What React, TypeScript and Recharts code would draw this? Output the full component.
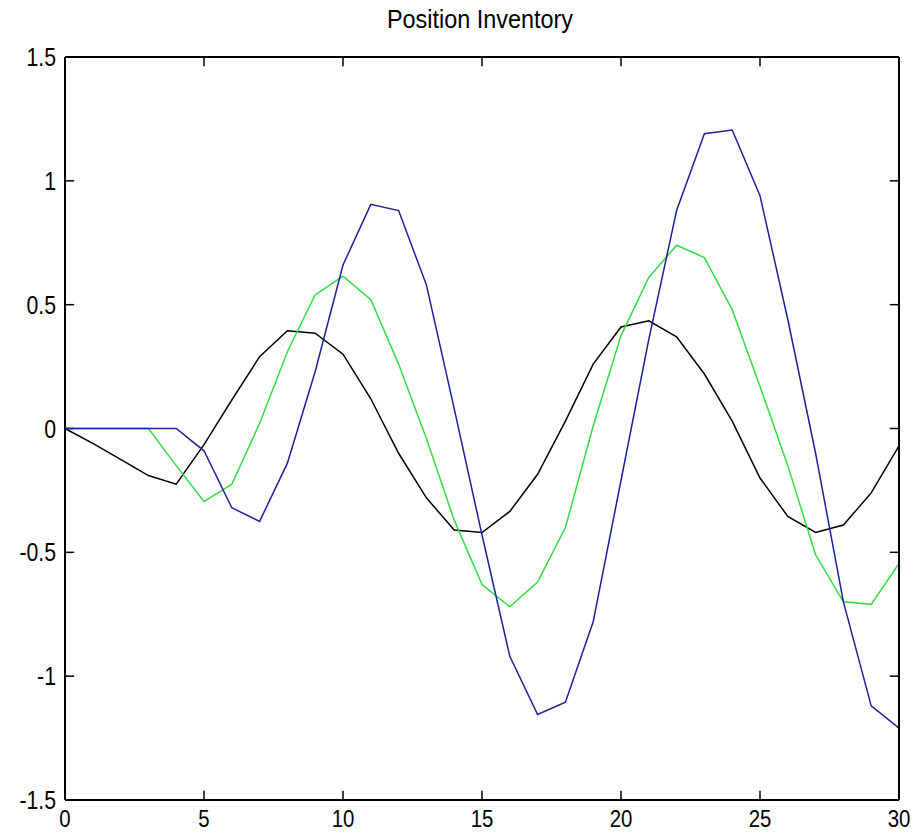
import { Line, LineChart, ReferenceLine, XAxis, YAxis } from 'recharts';

const steps = [0, 1, 2, 3, 4, 5, 6, 7, 8, 9, 10, 11, 12, 13, 14, 15, 16, 17, 18, 19, 20, 21, 22, 23, 24, 25, 26, 27, 28, 29, 30];

const blackSeries = [
  0, -0.06, -0.125, -0.19, -0.225, -0.065, 0.115, 0.29, 0.395, 0.385, 0.3,
  0.12, -0.1, -0.28, -0.41, -0.42, -0.335, -0.185, 0.03, 0.26, 0.41,
  0.435, 0.37, 0.22, 0.03, -0.2, -0.355, -0.42, -0.39, -0.26, -0.07
];

const greenSeries = [
  0, 0, 0, 0, -0.15, -0.295, -0.225, 0.02, 0.31, 0.54, 0.615,
  0.52, 0.26, -0.04, -0.37, -0.63, -0.72, -0.62, -0.4, 0.01, 0.375,
  0.61, 0.74, 0.69, 0.48, 0.17, -0.15, -0.51, -0.7, -0.71, -0.545
];

const blueSeries = [
  0, 0, 0, 0, 0, -0.09, -0.32, -0.375, -0.14, 0.23, 0.66,
  0.905, 0.88, 0.58, 0.08, -0.43, -0.92, -1.155, -1.105, -0.78, -0.21,
  0.36, 0.88, 1.19, 1.205, 0.94, 0.44, -0.1, -0.7, -1.12, -1.21
];

const xTicks = [0, 5, 10, 15, 20, 25, 30];
const yTicks = [-1.5, -1, -0.5, 0, 0.5, 1, 1.5];

const data = steps.map((t, i) => ({
  t,
  black: blackSeries[i],
  green: greenSeries[i],
  blue: blueSeries[i]
}));

const X_MIN = 0;
const X_MAX = 30;
const Y_MIN = -1.5;
const Y_MAX = 1.5;

// inward tick length in data units (~9px each way)
const X_TICK_LEN = 0.33;
const Y_TICK_LEN = 0.037;

const font = '"Liberation Sans", Arial, sans-serif';
const X_GAP = 9;
const Y_GAP = 9;

const BottomLabel = (props: any) => {
  const x = Number(props.x);
  const y = Number(props.y);
  return (
    <text transform={`translate(${x},${y}) scale(0.85,1)`} x={0} y={0} dy="0.74em" textAnchor="middle" fill="#000" fontSize={24} fontFamily={font}>
      {props.payload.value}
    </text>
  );
};

const LeftLabel = (props: any) => {
  const x = Number(props.x);
  const y = Number(props.y);
  return (
    <text transform={`translate(${x},${y}) scale(0.85,1)`} x={0} y={0} dy="0.36em" textAnchor="end" fill="#000" fontSize={25} fontFamily={font}>
      {props.payload.value}
    </text>
  );
};

const tickSeg = (key: string, a: { x: number; y: number }, b: { x: number; y: number }) => (
  <ReferenceLine
    key={key}
    xAxisId="bottom"
    yAxisId="left"
    segment={[a, b]}
    stroke="#000"
    strokeWidth={1.5}
    ifOverflow="visible"
  />
);

export default function App() {
  return (
    <div style={{ position: 'relative', width: 912, height: 835 }}>
      <style>{'body { margin: 0; overflow: hidden; }'}</style>
      <div
        style={{
          position: 'absolute',
          left: 0,
          width: 960,
          top: 4,
          textAlign: 'center',
          fontFamily: font,
          fontSize: 26,
          color: '#000',
          transform: 'scaleX(0.9)',
          transformOrigin: '480px 0'
        }}
      >
        Position Inventory
      </div>
      <LineChart width={912} height={835} data={data} margin={{ top: 56, right: 12, bottom: 0, left: 0 }}>
        <XAxis
          xAxisId="bottom"
          dataKey="t"
          type="number"
          domain={[X_MIN, X_MAX]}
          ticks={xTicks}
          height={35}
          stroke="#000"
          strokeWidth={2}
          tickLine={false}
          tickSize={0}
          tickMargin={X_GAP}
          tick={BottomLabel}
        />
        <XAxis
          xAxisId="top"
          orientation="top"
          dataKey="t"
          type="number"
          domain={[X_MIN, X_MAX]}
          ticks={xTicks}
          height={1}
          stroke="#000"
          strokeWidth={2}
          tickLine={false}
          tick={false}
        />
        <YAxis
          yAxisId="left"
          type="number"
          domain={[Y_MIN, Y_MAX]}
          ticks={yTicks}
          width={65}
          stroke="#000"
          strokeWidth={2}
          tickLine={false}
          tickSize={0}
          tickMargin={Y_GAP}
          tick={LeftLabel}
        />
        <YAxis
          yAxisId="right"
          orientation="right"
          type="number"
          domain={[Y_MIN, Y_MAX]}
          ticks={yTicks}
          width={1}
          stroke="#000"
          strokeWidth={2}
          tickLine={false}
          tick={false}
        />
        {xTicks.map((v) => tickSeg(`b${v}`, { x: v, y: Y_MIN }, { x: v, y: Y_MIN + Y_TICK_LEN }))}
        {xTicks.map((v) => tickSeg(`t${v}`, { x: v, y: Y_MAX }, { x: v, y: Y_MAX - Y_TICK_LEN }))}
        {yTicks.map((v) => tickSeg(`l${v}`, { x: X_MIN, y: v }, { x: X_MIN + X_TICK_LEN, y: v }))}
        {yTicks.map((v) => tickSeg(`r${v}`, { x: X_MAX, y: v }, { x: X_MAX - X_TICK_LEN, y: v }))}
        <Line xAxisId="bottom" yAxisId="left" dataKey="black" stroke="#000000" strokeWidth={1.5} dot={false} isAnimationActive={false} />
        <Line xAxisId="bottom" yAxisId="left" dataKey="green" stroke="#33dd44" strokeWidth={1.5} dot={false} isAnimationActive={false} />
        <Line xAxisId="bottom" yAxisId="left" dataKey="blue" stroke="#1f1f99" strokeWidth={1.5} dot={false} isAnimationActive={false} />
      </LineChart>
    </div>
  );
}
